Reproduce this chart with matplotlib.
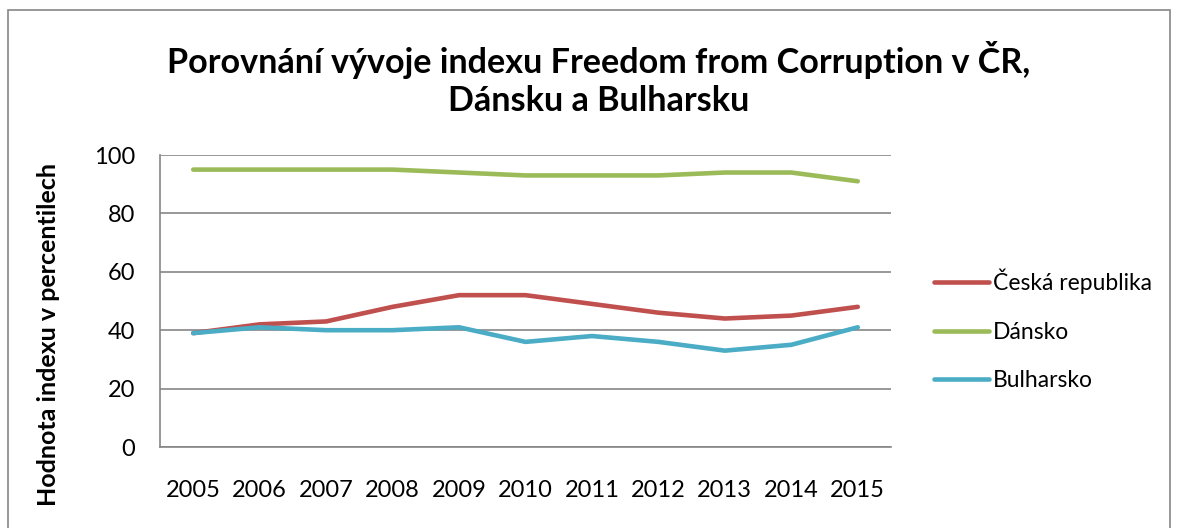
import matplotlib
matplotlib.use("Agg")
import matplotlib.pyplot as plt
from matplotlib.patches import Rectangle

plt.rcParams['font.family'] = ['Lato', 'DejaVu Sans']

years = ['2005', '2006', '2007', '2008', '2009', '2010', '2011', '2012', '2013', '2014', '2015']
cesko = [39, 42, 43, 48, 52, 52, 49, 46, 44, 45, 48]
dansko = [95, 95, 95, 95, 94, 93, 93, 93, 94, 94, 91]
bulharsko = [39, 41, 40, 40, 41, 36, 38, 36, 33, 35, 41]

fig = plt.figure(figsize=(11.77, 5.28), dpi=100)
ax = fig.add_axes([160/1177, 1-447/528, (891-160)/1177, (447-155)/528])

x = range(len(years))
ax.plot(x, cesko, color='#C0504D', lw=3.3, label='Česká republika', solid_capstyle='round')
ax.plot(x, dansko, color='#9BBB59', lw=3.3, label='Dánsko', solid_capstyle='round')
ax.plot(x, bulharsko, color='#4BACC6', lw=3.3, label='Bulharsko', solid_capstyle='round')

ax.set_xlim(-0.5, 10.5)
ax.set_ylim(0, 100)
ax.set_yticks(range(0, 101, 20))
ax.set_xticks(list(x))
ax.set_xticklabels(years)
ax.tick_params(length=0, labelsize=17)
ax.tick_params(axis='x', pad=24)
ax.tick_params(axis='y', pad=18)
ax.grid(axis='y', color='#868686', lw=1.2)
ax.set_axisbelow(True)
for s in ['top', 'right']:
    ax.spines[s].set_visible(False)
ax.spines['left'].set_color('#868686')
ax.spines['bottom'].set_color('#868686')
ax.spines['left'].set_linewidth(1.2)
ax.spines['bottom'].set_linewidth(1.2)

ax.set_ylabel('Hodnota indexu v percentilech', fontsize=18, fontweight='bold')
ax.yaxis.set_label_coords(-0.137, 0.385)

fig.text(0.509, 1-79/528, 'Porovnání vývoje indexu Freedom from Corruption v ČR,\nDánsku a Bulharsku',
         ha='center', va='center', fontsize=24.6, fontweight='bold', linespacing=1.2)

leg = ax.legend(loc='center left', bbox_to_anchor=(1.03, 0.40), frameon=False, fontsize=16.5,
                handlelength=2.4, handletextpad=0.2, labelspacing=1.2)

fig.patches.append(Rectangle((8/1177, -0.1), (1170-8)/1177, 1.1-10/528, transform=fig.transFigure,
                             fill=False, edgecolor='#868686', lw=1.2))

fig.savefig('out.png', dpi=100)
